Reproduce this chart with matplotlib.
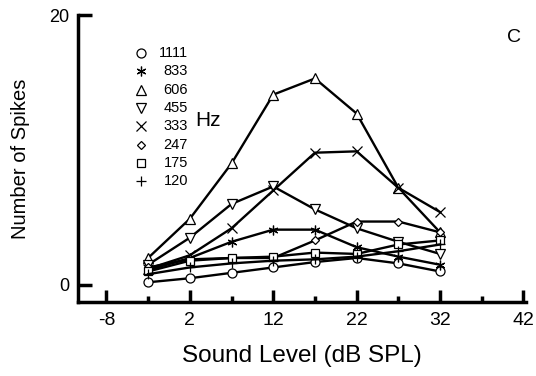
import matplotlib
matplotlib.use('Agg')
import matplotlib.pyplot as plt
from matplotlib.ticker import FixedLocator

plt.rcParams['font.family'] = ['Liberation Sans', 'DejaVu Sans']
plt.rcParams['axes.unicode_minus'] = False

levels = [-3, 2, 7, 12, 17, 22, 27, 32]
freqs = ['1111', '833', '606', '455', '333', '247', '175', '120']
markers = ['o', (6, 2, 0), '^', 'v', 'x', 'D', 's', '+']
sizes = [6.5, 7, 6.5, 6.5, 6.5, 4.5, 5.5, 7.5]

spikes_1111 = [0.2, 0.5, 0.9, 1.3, 1.7, 2.0, 1.6, 1.0]
spikes_833 = [1.1, 2.0, 3.2, 4.1, 4.1, 2.8, 2.1, 1.5]
spikes_606 = [2.0, 4.9, 9.0, 14.1, 15.3, 12.7, 7.2, 3.9]
spikes_455 = [1.5, 3.5, 6.0, 7.3, 5.6, 4.2, 3.2, 2.3]
spikes_333 = [1.2, 2.2, 4.2, 7.0, 9.8, 9.9, 7.2, 5.4]
spikes_247 = [1.3, 1.9, 2.0, 2.0, 3.3, 4.7, 4.7, 3.9]
spikes_175 = [1.0, 1.8, 2.0, 2.1, 2.4, 2.3, 3.0, 3.3]
spikes_120 = [0.8, 1.3, 1.6, 1.8, 1.9, 2.1, 2.5, 3.0]

series = [spikes_1111, spikes_833, spikes_606, spikes_455,
          spikes_333, spikes_247, spikes_175, spikes_120]

fig = plt.figure(figsize=(5.36, 3.76), dpi=100)
ax = fig.add_axes([78 / 536, 1 - 302 / 376, (526 - 78) / 536, (302 - 15) / 376])

for vals, m, s in zip(series, markers, sizes):
    ax.plot(levels, vals, color='black', lw=1.7, marker=m, ms=s,
            mfc='white', mec='black', mew=0.9)

ax.set_xlim(-11.4, 42.3)
ax.set_ylim(-1.26, 20)

for side in ['top', 'right']:
    ax.spines[side].set_visible(False)
for side in ['left', 'bottom']:
    ax.spines[side].set_linewidth(2.5)

ax.xaxis.set_major_locator(FixedLocator([-8, 2, 12, 22, 32, 42]))
ax.xaxis.set_minor_locator(FixedLocator([-3, 7, 17, 27, 37]))
ax.set_yticks([0, 20])
ax.tick_params(axis='x', which='major', direction='in', length=9, width=2.5,
               labelsize=14, pad=7)
ax.tick_params(axis='x', which='minor', direction='in', length=4.5, width=2.5)
ax.tick_params(axis='y', direction='in', length=10, width=2.5, labelsize=13, pad=6)

ax.set_xlabel('Sound Level (dB SPL)', fontsize=17.5, labelpad=12)
ax.set_ylabel('Number of Spikes', fontsize=14.5, labelpad=14)

# legend drawn as text columns like the original
for i, (f, m, s) in enumerate(zip(freqs, markers, sizes)):
    yy = 17.2 - i * 1.36
    ax.plot([-3.9], [yy], marker=m, ms=s, mfc='white', mec='black', mew=0.9,
            color='black', clip_on=False)
    ax.text(1.8, yy, f, ha='right', va='center', fontsize=10.5)

ax.text(2.7, 12.2, 'Hz', fontsize=15, ha='left', va='center')
ax.text(40.0, 18.3, 'C', fontsize=14, ha='left', va='center')

fig.savefig('out.png', dpi=100)
